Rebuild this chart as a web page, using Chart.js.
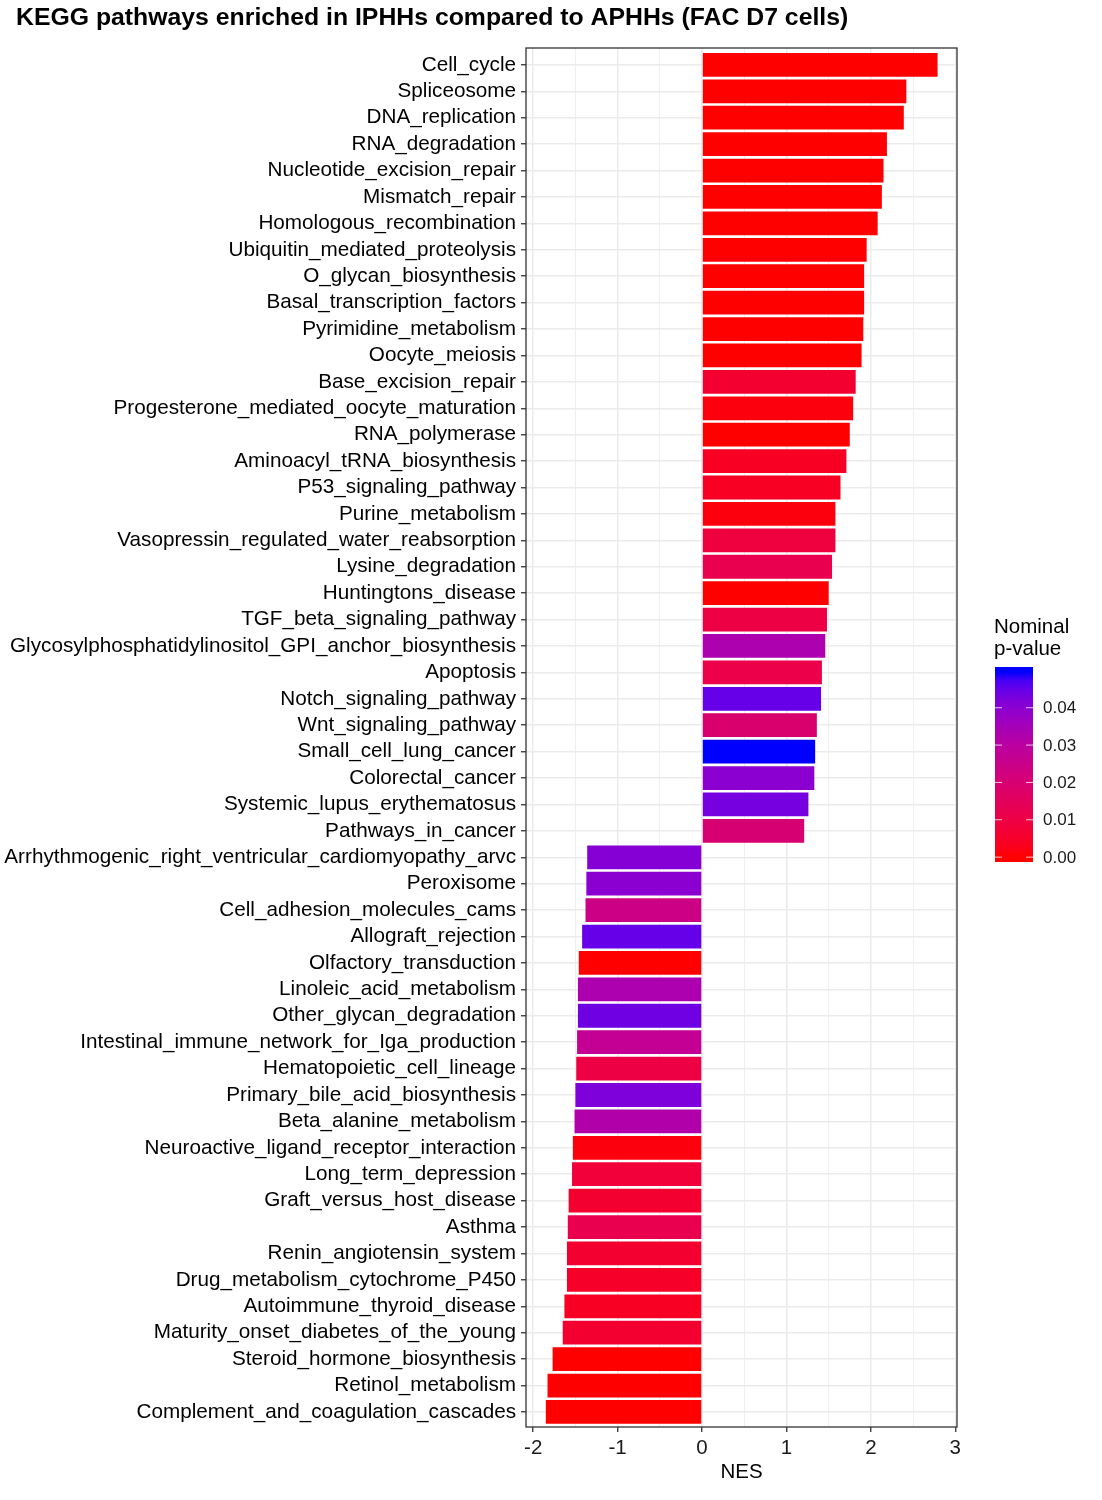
<!DOCTYPE html>
<html>
<head>
<meta charset="utf-8">
<script src="https://cdn.jsdelivr.net/npm/chart.js@4.4.0/dist/chart.umd.min.js"></script>
<style>
  html, body { margin: 0; padding: 0; background: #fff; }
  #wrap { position: relative; width: 1102px; height: 1500px; }
</style>
</head>
<body>
<div id="wrap"><canvas id="chart" width="1102" height="1500"></canvas></div>
<script>
// ── Data ─────────────────────────────────────────────────────
const TITLE = 'KEGG pathways enriched in IPHHs compared to APHHs (FAC D7 cells)';

const pathways = [
  'Cell_cycle', 'Spliceosome', 'DNA_replication', 'RNA_degradation',
  'Nucleotide_excision_repair', 'Mismatch_repair', 'Homologous_recombination',
  'Ubiquitin_mediated_proteolysis', 'O_glycan_biosynthesis', 'Basal_transcription_factors',
  'Pyrimidine_metabolism', 'Oocyte_meiosis', 'Base_excision_repair',
  'Progesterone_mediated_oocyte_maturation', 'RNA_polymerase', 'Aminoacyl_tRNA_biosynthesis',
  'P53_signaling_pathway', 'Purine_metabolism', 'Vasopressin_regulated_water_reabsorption',
  'Lysine_degradation', 'Huntingtons_disease', 'TGF_beta_signaling_pathway',
  'Glycosylphosphatidylinositol_GPI_anchor_biosynthesis', 'Apoptosis', 'Notch_signaling_pathway',
  'Wnt_signaling_pathway', 'Small_cell_lung_cancer', 'Colorectal_cancer',
  'Systemic_lupus_erythematosus', 'Pathways_in_cancer',
  'Arrhythmogenic_right_ventricular_cardiomyopathy_arvc', 'Peroxisome',
  'Cell_adhesion_molecules_cams', 'Allograft_rejection', 'Olfactory_transduction',
  'Linoleic_acid_metabolism', 'Other_glycan_degradation', 'Intestinal_immune_network_for_Iga_production',
  'Hematopoietic_cell_lineage', 'Primary_bile_acid_biosynthesis', 'Beta_alanine_metabolism',
  'Neuroactive_ligand_receptor_interaction', 'Long_term_depression', 'Graft_versus_host_disease',
  'Asthma', 'Renin_angiotensin_system', 'Drug_metabolism_cytochrome_P450',
  'Autoimmune_thyroid_disease', 'Maturity_onset_diabetes_of_the_young',
  'Steroid_hormone_biosynthesis', 'Retinol_metabolism', 'Complement_and_coagulation_cascades'
];

const nes = [
  2.79, 2.42, 2.39, 2.19, 2.15, 2.13, 2.08, 1.95, 1.92, 1.92,
  1.91, 1.89, 1.82, 1.79, 1.75, 1.71, 1.64, 1.58, 1.58, 1.54,
  1.50, 1.48, 1.46, 1.42, 1.41, 1.36, 1.34, 1.33, 1.26, 1.21,
  -1.36, -1.37, -1.38, -1.42, -1.46, -1.47, -1.47, -1.48, -1.49, -1.50,
  -1.51, -1.53, -1.54, -1.58, -1.59, -1.60, -1.60, -1.63, -1.65, -1.77,
  -1.83, -1.85
];

const pvalue = [
  0.000, 0.000, 0.000, 0.000, 0.000, 0.000, 0.000, 0.000, 0.000, 0.000,
  0.000, 0.000, 0.006, 0.001, 0.000, 0.004, 0.004, 0.001, 0.009, 0.012,
  0.000, 0.010, 0.033, 0.011, 0.045, 0.019, 0.0496, 0.040, 0.043, 0.020,
  0.041, 0.040, 0.024, 0.045, 0.000, 0.033, 0.044, 0.027, 0.010, 0.042,
  0.032, 0.001, 0.008, 0.006, 0.012, 0.006, 0.005, 0.004, 0.006, 0.000,
  0.000, 0.000
];

const xTicks = [-2, -1, 0, 1, 2, 3];
const xMinor = [-1.5, -0.5, 0.5, 1.5, 2.5];
const legendTicks = [0.00, 0.01, 0.02, 0.03, 0.04];
const pLimits = [0, 0.0496];

const FONT = '"Liberation Sans", Arial, sans-serif';

// ── Colour ramp (red -> blue, CIELAB interpolation as in ggplot) ──
function lin(c) { c /= 255; return c <= 0.04045 ? c / 12.92 : Math.pow((c + 0.055) / 1.055, 2.4); }
function delin(c) { const v = c <= 0.0031308 ? 12.92 * c : 1.055 * Math.pow(c, 1 / 2.4) - 0.055; return Math.round(Math.min(1, Math.max(0, v)) * 255); }
function toLab([r, g, b]) {
  const R = lin(r), G = lin(g), B = lin(b);
  const f = t => t > 0.008856 ? Math.cbrt(t) : 7.787 * t + 16 / 116;
  const fx = f((0.4124 * R + 0.3576 * G + 0.1805 * B) / 0.95047);
  const fy = f(0.2126 * R + 0.7152 * G + 0.0722 * B);
  const fz = f((0.0193 * R + 0.1192 * G + 0.9505 * B) / 1.08883);
  return [116 * fy - 16, 500 * (fx - fy), 200 * (fy - fz)];
}
function fromLab([L, a, b]) {
  const fy = (L + 16) / 116, fx = fy + a / 500, fz = fy - b / 200;
  const g = t => t ** 3 > 0.008856 ? t ** 3 : (t - 16 / 116) / 7.787;
  const X = g(fx) * 0.95047, Y = g(fy), Z = g(fz) * 1.08883;
  const R = 3.2406 * X - 1.5372 * Y - 0.4986 * Z;
  const G = -0.9689 * X + 1.8758 * Y + 0.0415 * Z;
  const B = 0.0557 * X - 0.2040 * Y + 1.0570 * Z;
  return `rgb(${delin(R)},${delin(G)},${delin(B)})`;
}
const LOW = toLab([255, 0, 0]), HIGH = toLab([0, 0, 255]);
function pColor(p) {
  const t = Math.min(1, Math.max(0, (p - pLimits[0]) / (pLimits[1] - pLimits[0])));
  return fromLab(LOW.map((v, i) => v + (HIGH[i] - v) * t));
}

// ── Plugins: title, panel border, colourbar legend ───────────
const decor = {
  id: 'decor',
  afterDraw(chart) {
    const { ctx, chartArea: a } = chart;
    ctx.save();
    // panel border
    ctx.strokeStyle = '#333333';
    ctx.lineWidth = 1.3;
    ctx.strokeRect(a.left, a.top, a.right - a.left, a.bottom - a.top);

    // title
    ctx.fillStyle = '#000';
    ctx.font = `bold 24.8px ${FONT}`;
    ctx.textBaseline = 'middle';
    ctx.textAlign = 'left';
    ctx.fillText(TITLE, 16, 18);

    // legend
    const bx = 995, bw = 38, top = 667, bot = 862;
    const half = (bot - top) / 40;
    const y0 = bot - half, y1 = top + half;   // limits mapped to bin centres
    const grad = ctx.createLinearGradient(0, y0, 0, y1);
    for (let i = 0; i <= 20; i++) {
      const t = i / 20;
      grad.addColorStop(t, pColor(pLimits[0] + t * (pLimits[1] - pLimits[0])));
    }
    ctx.fillStyle = grad;
    ctx.fillRect(bx, top, bw, bot - top);

    ctx.font = `20.5px ${FONT}`;
    ctx.fillStyle = '#000';
    ctx.textBaseline = 'middle';
    ctx.fillText('Nominal', 994, 627);
    ctx.fillText('p-value', 994, 649);

    ctx.font = `17px ${FONT}`;
    ctx.strokeStyle = 'rgba(255,255,255,0.75)';
    ctx.lineWidth = 1;
    legendTicks.forEach(v => {
      const y = y0 + (y1 - y0) * (v - pLimits[0]) / (pLimits[1] - pLimits[0]);
      ctx.beginPath();
      ctx.moveTo(bx, y); ctx.lineTo(bx + 7, y);
      ctx.moveTo(bx + bw - 7, y); ctx.lineTo(bx + bw, y);
      ctx.stroke();
      ctx.fillStyle = '#1a1a1a';
      ctx.fillText(v.toFixed(2), 1043, y + 1);
    });
    ctx.restore();
  }
};

// ── Chart ────────────────────────────────────────────────────
new Chart(document.getElementById('chart'), {
  type: 'bar',
  data: {
    labels: pathways,
    datasets: [{
      data: nes,
      backgroundColor: pvalue.map(pColor),
      borderWidth: 0,
      barPercentage: 0.9,
      categoryPercentage: 1.0
    }]
  },
  options: {
    indexAxis: 'y',
    responsive: false,
    animation: false,
    devicePixelRatio: 1,
    layout: { padding: { top: 48, right: 145, left: 0, bottom: 0 } },
    plugins: { legend: { display: false }, tooltip: { enabled: false }, title: { display: false } },
    scales: {
      x: {
        type: 'linear',
        min: -2.085,
        max: 3.02,
        afterFit: s => { s.height = 73; },
        afterBuildTicks: s => { s.ticks = [...xTicks, ...xMinor].sort((p, q) => p - q).map(v => ({ value: v })); },
        border: { display: false },
        grid: {
          color: '#EBEBEB',
          lineWidth: c => Number.isInteger(c.tick?.value) ? 1.5 : 0.8,
          tickColor: c => Number.isInteger(c.tick?.value) ? '#333333' : 'rgba(0,0,0,0)',
          tickLength: 5,
          tickWidth: 1.3
        },
        ticks: {
          autoSkip: false,
          maxRotation: 0,
          padding: 4,
          color: '#1a1a1a',
          font: { family: FONT, size: 20.5 },
          callback: v => Number.isInteger(v) ? String(v) : ''
        },
        title: {
          display: true,
          text: 'NES',
          color: '#000',
          font: { family: FONT, size: 20.5 },
          padding: { top: 0, bottom: 15 }
        }
      },
      y: {
        afterFit: s => { s.width = 526; },
        // ggplot-style discrete expansion: ~0.6 of a category on each end
        afterBuildTicks: s => { s._startValue -= 0.14; s._valueRange += 0.21; },
        border: { display: false },
        grid: {
          offset: false,
          color: '#EBEBEB',
          lineWidth: 1.5,
          tickColor: '#333333',
          tickLength: 5,
          tickWidth: 1.3
        },
        ticks: {
          autoSkip: false,
          padding: 5,
          color: '#000',
          font: { family: FONT, size: 20.7 }
        }
      }
    }
  },
  plugins: [decor]
});
</script>
</body>
</html>
